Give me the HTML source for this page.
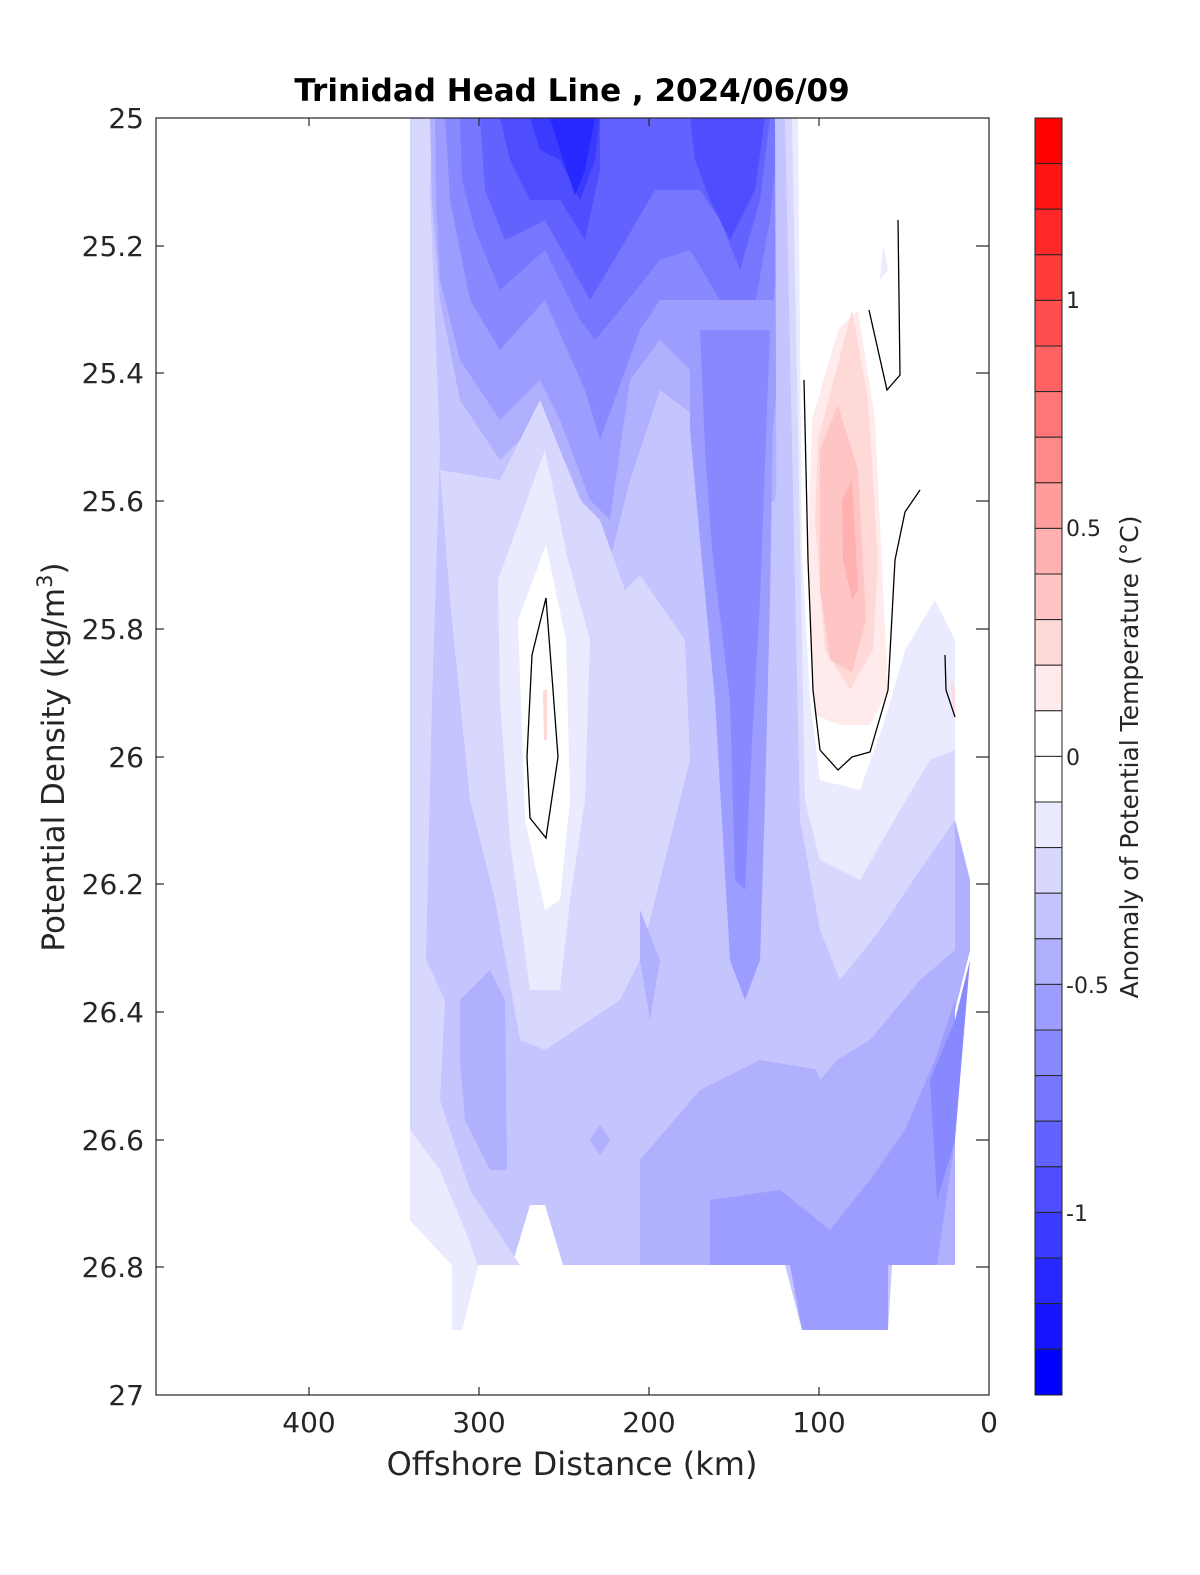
<!DOCTYPE html>
<html><head><meta charset="utf-8"><style>
body{margin:0;background:#fff;}
svg{display:block;font-family:"DejaVu Sans","Liberation Sans",sans-serif;}
</style></head><body>
<svg width="1200" height="1575" viewBox="0 0 1200 1575" xmlns="http://www.w3.org/2000/svg">
<rect width="1200" height="1575" fill="#fff"/>
<defs><clipPath id="c"><rect x="156" y="118" width="833" height="1277"/></clipPath></defs>
<g clip-path="url(#c)" stroke="none">
<polygon fill="rgb(196,196,255)" points="410,118 955,118 955,820 970,880 970,950 955,1010 955,1140 937,1200 937,1265 892,1265 888,1330 802,1330 785,1265 563,1265 545,1205 530,1205 512,1265 478,1265 462,1330 452,1330 452,1265 410,1220"/>
<polygon fill="rgb(216,216,255)" points="410,118 432,118 430,190 440,450 432,700 426,960 445,1000 440,1100 470,1190 520,1265 478,1265 462,1330 452,1330 452,1265 410,1220"/>
<polygon fill="rgb(235,235,255)" points="410,1130 440,1170 465,1230 478,1265 462,1330 452,1330 452,1265 410,1220"/>
<polygon fill="rgb(176,176,255)" points="430,118 800,118 790,330 775,500 740,520 700,420 660,390 630,480 610,560 590,520 560,450 540,420 500,460 460,400 440,300 432,200"/>
<polygon fill="rgb(157,157,255)" points="435,118 795,118 785,300 770,460 735,470 700,380 660,340 630,380 610,520 590,500 560,420 540,380 500,420 460,360 440,280 436,200"/>
<polygon fill="rgb(137,137,255)" points="445,118 790,118 780,250 760,400 740,420 720,330 690,300 660,300 640,330 600,440 585,390 545,300 500,350 470,300 450,200"/>
<polygon fill="rgb(118,118,255)" points="460,118 780,118 770,220 745,360 720,300 690,250 660,260 620,310 595,340 580,320 545,250 500,290 475,230 462,180"/>
<polygon fill="rgb(98,98,255)" points="480,118 770,118 760,200 740,270 720,220 700,190 655,190 620,250 590,300 545,220 505,240 485,190"/>
<polygon fill="rgb(78,78,255)" points="500,118 600,118 600,170 585,240 560,200 530,200 510,160"/>
<polygon fill="rgb(78,78,255)" points="690,118 765,118 755,190 730,240 710,200 695,160"/>
<polygon fill="rgb(59,59,255)" points="530,118 600,118 595,160 580,200 560,160 540,150"/>
<polygon fill="rgb(39,39,255)" points="550,118 595,118 585,170 575,195 560,150"/>
<polygon fill="rgb(157,157,255)" points="690,300 775,300 770,600 765,800 760,960 745,1000 730,960 715,700 700,540 690,430"/>
<polygon fill="rgb(137,137,255)" points="700,330 770,330 760,600 750,780 745,890 735,880 730,700 712,550 705,450"/>
<polygon fill="rgb(216,216,255)" points="440,470 500,480 540,400 580,500 600,520 625,590 640,575 685,640 690,760 660,880 640,960 620,1000 545,1050 520,1040 495,900 470,800 450,600"/>
<polygon fill="rgb(235,235,255)" points="498,580 545,450 568,560 590,640 585,800 570,900 560,990 530,990 510,840 500,700"/>
<polygon fill="#fff" points="518,620 546,545 566,640 570,800 560,900 545,910 525,820"/>
<polygon fill="rgb(216,216,255)" points="655,640 670,620 685,660 680,760 665,780 655,700"/>
<polygon fill="rgb(176,176,255)" points="460,1000 490,970 505,1000 507,1170 490,1170 465,1120 460,1060"/>
<polygon fill="rgb(176,176,255)" points="640,910 660,960 650,1020 640,960"/>
<polygon fill="rgb(176,176,255)" points="590,1140 600,1125 610,1140 600,1155"/>
<polygon fill="rgb(176,176,255)" points="640,1160 700,1090 760,1060 820,1070 870,1040 920,980 955,950 955,1265 640,1265"/>
<polygon fill="rgb(157,157,255)" points="710,1200 780,1190 830,1230 870,1180 905,1130 935,1060 955,1000 955,1140 937,1265 710,1265"/>
<polygon fill="rgb(157,157,255)" points="790,1265 888,1265 888,1330 802,1330"/>
<polygon fill="rgb(137,137,255)" points="930,1080 955,1020 970,960 955,1140 937,1200"/>
<polygon fill="rgb(176,176,255)" points="955,820 970,880 970,950 955,1010"/>
<polygon fill="rgb(196,196,255)" points="775,118 955,118 955,900 900,960 880,1010 820,1080 790,1000 778,900"/>
<polygon fill="rgb(216,216,255)" points="785,118 955,118 955,820 920,870 880,930 840,980 820,930 800,820"/>
<polygon fill="rgb(235,235,255)" points="792,118 955,118 955,750 930,760 900,810 860,880 820,860 805,800"/>
<polygon fill="#fff" points="798,118 955,118 955,640 935,600 905,650 885,720 860,790 820,780 810,700 802,550"/>
<polygon fill="rgb(235,235,255)" points="883,245 888,270 880,280"/>
<polygon fill="rgb(255,235,235)" points="812,420 838,330 858,310 875,420 888,690 870,725 840,725 815,715 808,560"/>
<polygon fill="rgb(255,216,216)" points="818,440 852,310 868,400 878,560 873,650 850,690 825,650 815,520"/>
<polygon fill="rgb(255,196,196)" points="820,450 838,405 858,470 866,620 852,672 830,660 820,590"/>
<polygon fill="rgb(255,176,176)" points="842,500 852,480 858,590 852,600 843,560"/>
<polygon fill="rgb(255,216,216)" points="950,680 955,690 955,720"/>
<polygon fill="rgb(255,216,216)" points="543,690 547,690 547,740 544,740"/>
<g fill="none" stroke="#000" stroke-width="1.3">
<polygon points="546,598 532,655 527,757 530,818 546,838 558,757 553,690"/>
<polyline points="804,380 808,560 813,690 820,750 838,770 852,757 870,752 888,690 895,560 905,512 920,490"/>
<polyline points="869,310 887,390 900,375 898,220"/>
<polyline points="945,655 946,690 955,717"/>
</g>
</g>
<rect x="156" y="118" width="833" height="1277" fill="none" stroke="#262626" stroke-width="1.2"/>
<g stroke="#262626" stroke-width="1.2">
<line x1="309" y1="118" x2="309" y2="126"/><line x1="479" y1="118" x2="479" y2="126"/><line x1="649" y1="118" x2="649" y2="126"/><line x1="819" y1="118" x2="819" y2="126"/>
<line x1="309" y1="1395" x2="309" y2="1387"/><line x1="479" y1="1395" x2="479" y2="1387"/><line x1="649" y1="1395" x2="649" y2="1387"/><line x1="819" y1="1395" x2="819" y2="1387"/>
<line x1="156" y1="246" x2="164" y2="246"/><line x1="156" y1="373" x2="164" y2="373"/><line x1="156" y1="501" x2="164" y2="501"/><line x1="156" y1="629" x2="164" y2="629"/><line x1="156" y1="757" x2="164" y2="757"/><line x1="156" y1="884" x2="164" y2="884"/><line x1="156" y1="1012" x2="164" y2="1012"/><line x1="156" y1="1140" x2="164" y2="1140"/><line x1="156" y1="1267" x2="164" y2="1267"/>
<line x1="989" y1="246" x2="976" y2="246"/><line x1="989" y1="373" x2="976" y2="373"/><line x1="989" y1="501" x2="976" y2="501"/><line x1="989" y1="629" x2="976" y2="629"/><line x1="989" y1="757" x2="976" y2="757"/><line x1="989" y1="884" x2="976" y2="884"/><line x1="989" y1="1012" x2="976" y2="1012"/><line x1="989" y1="1140" x2="976" y2="1140"/><line x1="989" y1="1267" x2="976" y2="1267"/>
</g>
<g font-size="28" fill="#262626" text-anchor="end">
<text x="144" y="128">25</text><text x="144" y="256">25.2</text><text x="144" y="383">25.4</text><text x="144" y="511">25.6</text><text x="144" y="639">25.8</text><text x="144" y="767">26</text><text x="144" y="894">26.2</text><text x="144" y="1022">26.4</text><text x="144" y="1150">26.6</text><text x="144" y="1277">26.8</text><text x="144" y="1405">27</text>
</g>
<g font-size="28" fill="#262626" text-anchor="middle">
<text x="309" y="1432">400</text><text x="479" y="1432">300</text><text x="649" y="1432">200</text><text x="819" y="1432">100</text><text x="989" y="1432">0</text>
</g>
<text x="572" y="1475" font-size="32" fill="#262626" text-anchor="middle">Offshore Distance (km)</text>
<text transform="translate(64,757) rotate(-90)" font-size="31" fill="#262626" text-anchor="middle">Potential Density (kg/m<tspan baseline-shift="super" font-size="21">3</tspan>)</text>
<text x="572" y="101" font-size="31" font-weight="bold" fill="#000" text-anchor="middle">Trinidad Head Line , 2024/06/09</text>
<g stroke="#262626" stroke-width="1">
<rect x="1035" y="118" width="27" height="45.6" fill="rgb(255,0,0)"/>
<rect x="1035" y="163.6" width="27" height="45.6" fill="rgb(255,20,20)"/>
<rect x="1035" y="209.2" width="27" height="45.6" fill="rgb(255,39,39)"/>
<rect x="1035" y="254.8" width="27" height="45.6" fill="rgb(255,59,59)"/>
<rect x="1035" y="300.4" width="27" height="45.6" fill="rgb(255,78,78)"/>
<rect x="1035" y="346" width="27" height="45.6" fill="rgb(255,98,98)"/>
<rect x="1035" y="391.6" width="27" height="45.6" fill="rgb(255,118,118)"/>
<rect x="1035" y="437.2" width="27" height="45.6" fill="rgb(255,137,137)"/>
<rect x="1035" y="482.8" width="27" height="45.6" fill="rgb(255,157,157)"/>
<rect x="1035" y="528.4" width="27" height="45.6" fill="rgb(255,176,176)"/>
<rect x="1035" y="574" width="27" height="45.6" fill="rgb(255,196,196)"/>
<rect x="1035" y="619.6" width="27" height="45.6" fill="rgb(255,216,216)"/>
<rect x="1035" y="665.2" width="27" height="45.6" fill="rgb(255,235,235)"/>
<rect x="1035" y="710.8" width="27" height="45.6" fill="#fff"/>
<rect x="1035" y="756.4" width="27" height="45.6" fill="#fff"/>
<rect x="1035" y="802" width="27" height="45.6" fill="rgb(235,235,255)"/>
<rect x="1035" y="847.6" width="27" height="45.6" fill="rgb(216,216,255)"/>
<rect x="1035" y="893.2" width="27" height="45.6" fill="rgb(196,196,255)"/>
<rect x="1035" y="938.8" width="27" height="45.6" fill="rgb(176,176,255)"/>
<rect x="1035" y="984.4" width="27" height="45.6" fill="rgb(157,157,255)"/>
<rect x="1035" y="1030" width="27" height="45.6" fill="rgb(137,137,255)"/>
<rect x="1035" y="1075.6" width="27" height="45.6" fill="rgb(118,118,255)"/>
<rect x="1035" y="1121.2" width="27" height="45.6" fill="rgb(98,98,255)"/>
<rect x="1035" y="1166.8" width="27" height="45.6" fill="rgb(78,78,255)"/>
<rect x="1035" y="1212.4" width="27" height="45.6" fill="rgb(59,59,255)"/>
<rect x="1035" y="1258" width="27" height="45.6" fill="rgb(39,39,255)"/>
<rect x="1035" y="1303.6" width="27" height="45.6" fill="rgb(20,20,255)"/>
<rect x="1035" y="1349.2" width="27" height="45.8" fill="rgb(0,0,255)"/>
</g>
<g font-size="22" fill="#262626">
<text x="1066" y="308">1</text><text x="1066" y="536">0.5</text><text x="1066" y="765">0</text><text x="1066" y="993">-0.5</text><text x="1066" y="1221">-1</text>
</g>
<text transform="translate(1138,757) rotate(-90)" font-size="25" fill="#262626" text-anchor="middle">Anomaly of Potential Temperature (°C)</text>
</svg>
</body></html>
